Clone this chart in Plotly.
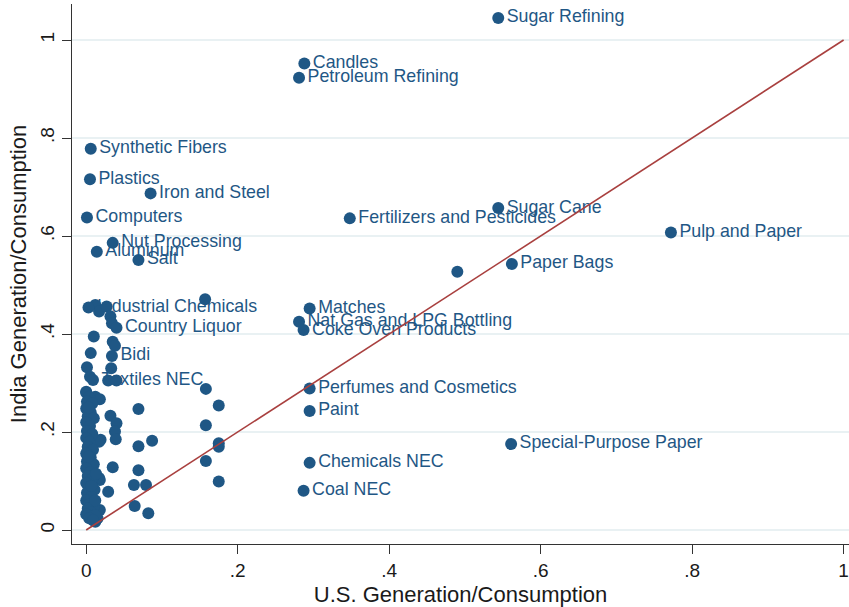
import plotly.graph_objects as go

# Labelled industries: U.S. vs India generation/consumption ratios
label_names = [
    "Sugar Refining", "Candles", "Petroleum Refining", "Synthetic Fibers",
    "Plastics", "Iron and Steel", "Computers", "Sugar Cane",
    "Fertilizers and Pesticides", "Pulp and Paper", "Nut Processing",
    "Aluminum", "Salt", "Paper Bags", "Industrial Chemicals", "Matches",
    "Country Liquor", "Nat Gas and LPG Bottling", "Coke Oven Products",
    "Bidi", "Textiles NEC", "Perfumes and Cosmetics", "Paint",
    "Special-Purpose Paper", "Chemicals NEC", "Coal NEC",
]
label_us = [
    0.544, 0.288, 0.281, 0.006,
    0.005, 0.085, 0.001, 0.544,
    0.348, 0.772, 0.035,
    0.014, 0.069, 0.562, 0.003, 0.295,
    0.040, 0.281, 0.287,
    0.034, 0.009, 0.295, 0.295,
    0.561, 0.295, 0.287,
]
label_india = [
    1.045, 0.952, 0.923, 0.778,
    0.716, 0.687, 0.638, 0.657,
    0.636, 0.607, 0.586,
    0.568, 0.551, 0.543, 0.454, 0.452,
    0.413, 0.425, 0.408,
    0.355, 0.306, 0.289, 0.243,
    0.1755, 0.137, 0.080,
]

# Unlabelled industries
other_us = [
    0.490, 0.157, 0.158, 0.175, 0.158, 0.175, 0.175, 0.158, 0.175,
    0.069, 0.069, 0.087, 0.069, 0.063, 0.079, 0.064, 0.082,
    0.032, 0.040, 0.038, 0.039, 0.035, 0.029,
    0.012, 0.017, 0.027, 0.032, 0.034, 0.035, 0.038, 0.033, 0.029, 0.040,
    0.010, 0.006, 0.001, 0.005, 0.000, 0.012, 0.018,
    0.019, 0.017, 0.018, 0.017, 0.015, 0.018, 0.012,
    0.000, 0.004, 0.001, 0.008, 0.000, 0.006, 0.002, 0.010, 0.000, 0.005,
    0.001, 0.008, 0.000, 0.004, 0.002, 0.009, 0.000, 0.006, 0.001, 0.010,
    0.000, 0.005, 0.002, 0.008, 0.000, 0.004, 0.011, 0.001, 0.007, 0.000,
    0.004, 0.010, 0.002, 0.006, 0.000, 0.012, 0.004, 0.009, 0.003, 0.007,
    0.003, 0.012, 0.013,
]
other_india = [
    0.527, 0.471, 0.288, 0.254, 0.214, 0.177, 0.170, 0.141, 0.099,
    0.247, 0.171, 0.182, 0.122, 0.092, 0.092, 0.049, 0.034,
    0.233, 0.218, 0.201, 0.185, 0.128, 0.078,
    0.459, 0.446, 0.456, 0.436, 0.422, 0.384, 0.376, 0.330, 0.305, 0.305,
    0.395, 0.361, 0.332, 0.313, 0.282, 0.272, 0.267,
    0.184, 0.180, 0.102, 0.106, 0.024, 0.041, 0.017,
    0.280, 0.272, 0.262, 0.258, 0.248, 0.240, 0.232, 0.228, 0.220, 0.212,
    0.202, 0.196, 0.188, 0.180, 0.170, 0.164, 0.156, 0.148, 0.140, 0.134,
    0.126, 0.118, 0.110, 0.104, 0.096, 0.088, 0.082, 0.076, 0.068, 0.060,
    0.052, 0.048, 0.044, 0.036, 0.032, 0.030, 0.024, 0.020, 0.150, 0.090,
    0.250, 0.060, 0.115,
]

# 45-degree reference line
diag = [0, 1]

tick_vals = [0, 0.2, 0.4, 0.6, 0.8, 1]
tick_text = ["0", ".2", ".4", ".6", ".8", "1"]

navy = "#1f5785"
line_red = "#a9403f"
axis_col = "#333333"
grid_col = "#e9f1f3"
font_family = "Liberation Sans, Arial, sans-serif"

fig = go.Figure()

# Labels first so that markers and the diagonal sit on top of them
fig.add_trace(go.Scatter(
    x=label_us, y=label_india, text=label_names,
    mode="markers+text", textposition="middle right",
    marker=dict(size=12, color="rgba(0,0,0,0)"),
    textfont=dict(family=font_family, size=17.8, color=navy),
    hoverinfo="skip", showlegend=False,
))

fig.add_trace(go.Scatter(
    x=other_us + label_us, y=other_india + label_india,
    mode="markers",
    marker=dict(size=12, color=navy, line=dict(width=0)),
    showlegend=False,
))

fig.add_trace(go.Scatter(
    x=diag, y=diag, mode="lines",
    line=dict(color=line_red, width=1.6),
    hoverinfo="skip", showlegend=False,
))

fig.update_layout(
    width=849, height=607,
    margin=dict(l=72, r=0, t=4, b=63, autoexpand=False),
    paper_bgcolor="white", plot_bgcolor="white",
    font=dict(family=font_family, color="#1a1a1a"),
    xaxis=dict(
        range=[-0.01875, 1.0071],
        tickvals=tick_vals, ticktext=tick_text,
        tickfont=dict(size=19),
        ticks="outside", ticklen=9, tickwidth=1.3, tickcolor=axis_col,
        showline=True, linecolor=axis_col, linewidth=1.3,
        showgrid=False, zeroline=False,
        title=dict(text="U.S. Generation/Consumption",
                   font=dict(size=22), standoff=6),
    ),
    yaxis=dict(
        range=[-0.02857, 1.0735],
        tickvals=tick_vals, ticktext=tick_text,
        tickfont=dict(size=19), tickangle=-90,
        ticks="outside", ticklen=9, tickwidth=1.3, tickcolor=axis_col,
        showline=True, linecolor=axis_col, linewidth=1.3,
        showgrid=True, gridcolor=grid_col, gridwidth=1.5,
        zeroline=False,
        title=dict(text="India Generation/Consumption",
                   font=dict(size=22), standoff=4),
    ),
)

fig.write_html("out.html")
